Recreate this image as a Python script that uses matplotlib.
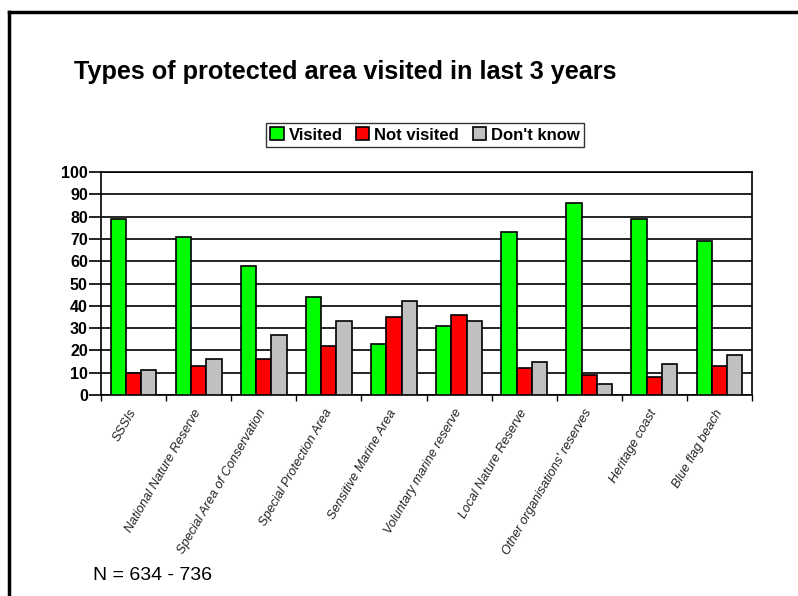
import matplotlib
matplotlib.use("Agg")
import matplotlib.pyplot as plt
import numpy as np
from matplotlib.lines import Line2D

categories = ["SSSIs", "National Nature Reserve", "Special Area of Conservation",
              "Special Protection Area", "Sensitive Marine Area", "Voluntary marine reserve",
              "Local Nature Reserve", "Other organisations' reserves", "Heritage coast",
              "Blue flag beach"]
visited = [79, 71, 58, 44, 23, 31, 73, 86, 79, 69]
not_visited = [10, 13, 16, 22, 35, 36, 12, 9, 8, 13]
dont_know = [11, 16, 27, 33, 42, 33, 15, 5, 14, 18]
series_names = ["Visited", "Not visited", "Don't know"]
yticks = list(range(0, 101, 10))

plt.rcParams['font.family'] = ['Liberation Sans', 'DejaVu Sans']

fig = plt.figure(figsize=(7.98, 5.96), dpi=100)
ax = fig.add_axes([101/798, 1-395/596, (752-101)/798, (395-172)/596])

x = np.arange(len(categories))
w = 0.234
colors = ["#00ff00", "#ff0000", "#c0c0c0"]
handles = []
for i, (vals, c, name) in enumerate(zip([visited, not_visited, dont_know], colors, series_names)):
    b = ax.bar(x + (i-1)*w, vals, w, color=c, edgecolor="black", linewidth=1.2,
               label=name, zorder=3)
    handles.append(b)

ax.set_xlim(-0.5, len(categories)-0.5)
ax.set_ylim(0, 100)
ax.set_yticks(yticks)
ax.set_yticklabels([str(v) for v in yticks], fontsize=11.5, fontweight='bold')
ax.yaxis.grid(True, color="black", linewidth=1.2, zorder=0)
ax.set_axisbelow(True)
ax.tick_params(axis='y', length=8.5, width=1.2, direction='out', pad=1)

ax.set_xticks(np.arange(-0.5, len(categories)), minor=False)
ax.set_xticklabels([])
ax.set_xticks(x, minor=True)
ax.set_xticklabels(categories, minor=True, rotation=60, ha='right', va='center',
                   rotation_mode='anchor', fontsize=9.2, fontstyle='italic', color='#222222')
ax.tick_params(axis='x', which='major', length=4, width=1.0, direction='out')
ax.tick_params(axis='x', which='minor', length=0, pad=11)

for s in ax.spines.values():
    s.set_linewidth(1.2)
    s.set_color("black")

fig.text(74/798, 1-72/596, "Types of protected area visited in last 3 years",
         fontsize=18.2, fontweight='bold', ha='left', va='center')

leg = fig.legend(handles=handles, labels=series_names, loc='center',
                 bbox_to_anchor=(425/798, 1-135/596), ncol=3, frameon=True,
                 fancybox=False, edgecolor='black', fontsize=12,
                 handlelength=0.8, handleheight=0.8, handletextpad=0.3,
                 columnspacing=0.8, borderpad=0.25, borderaxespad=0)
leg.get_frame().set_linewidth(1.0)
for t in leg.get_texts():
    t.set_fontweight('bold')

fig.text(93/798, 1-575/596, "N = 634 - 736", fontsize=14, ha='left', va='center')

fig.add_artist(Line2D([9/798, 1.0], [1-12/596, 1-12/596], color='black', linewidth=2.5,
                      transform=fig.transFigure))
fig.add_artist(Line2D([9/798, 9/798], [0, 1-12/596], color='black', linewidth=2.5,
                      transform=fig.transFigure))

fig.savefig("out.png", dpi=100)
